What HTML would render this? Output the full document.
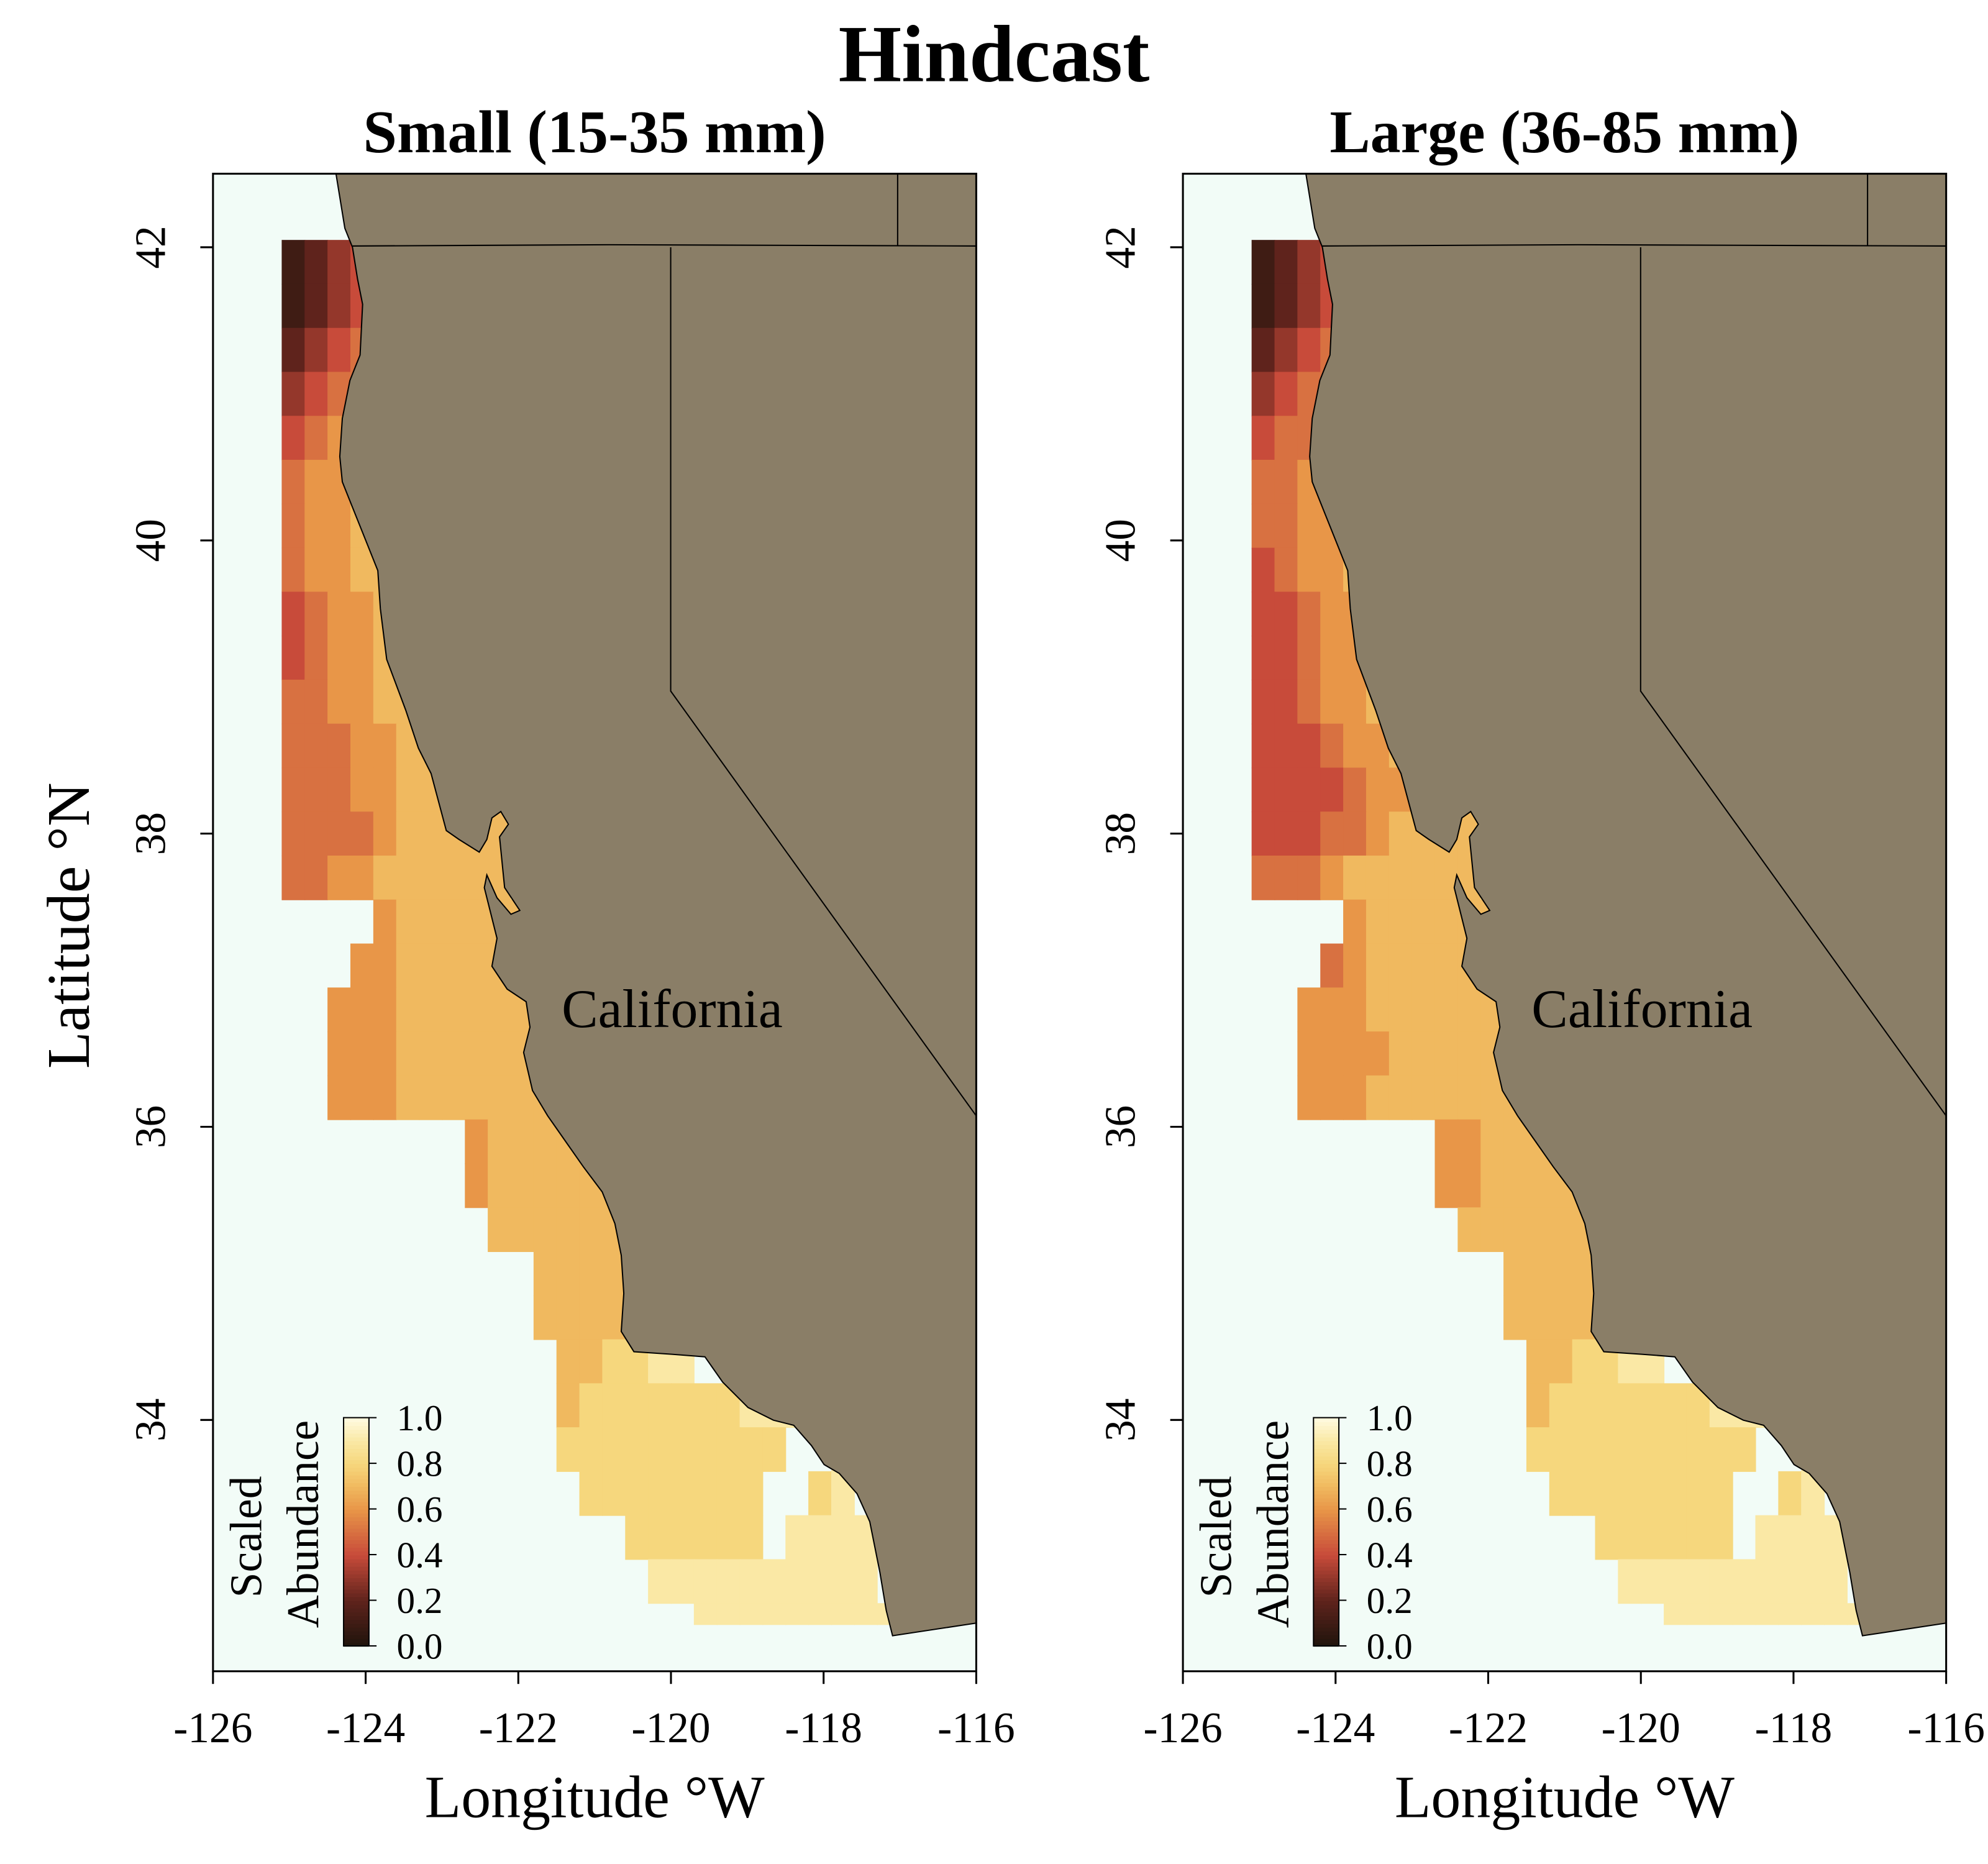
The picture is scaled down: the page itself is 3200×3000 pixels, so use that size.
<!DOCTYPE html>
<html><head><meta charset="utf-8">
<style>
html,body{margin:0;padding:0;background:#fff;}
svg{display:block;font-family:"Liberation Serif",serif;}
</style></head>
<body>
<svg id="fig" width="3200" height="3000" viewBox="0 0 1568 1470" preserveAspectRatio="none" xmlns="http://www.w3.org/2000/svg">
<text x="784" y="64" font-size="64" font-weight="bold" text-anchor="middle">Hindcast</text>
</svg>
<script>
// ---- chart data ----
const lonTicks = [-126, -124, -122, -120, -118, -116];
const latTicks = [42, 40, 38, 36, 34];
const cbTicks = ["0.0", "0.2", "0.4", "0.6", "0.8", "1.0"];
const panelTitles = ["Small (15-35 mm)", "Large (36-85 mm)"];
// gridded scaled abundance: each string is one 0.3° lat row (north to south),
// each char is one 0.3° lon column starting at -125.1; digit = value*10, space = no data
const smallGrid = [
"1234999999","12344999","2345999","3455999","45666999","5666999","56677999",
"566777999","4566777999","4566777999","5566777999","55566777999","555667777999",
"5555677777999","5566777777999","    6777777999","   66777777999","  6667777777999",
"  66677777777999","  6667777777999","        677777799","        67777779",
"         7777779","           7777799","           77779","            778899",
"            78888888999","            8888888888  99","             88888888  89",
"               888888 999999","                9999999999","                  999999999"
];
const largeGrid = [
"1234999999","12344999","2345999","3455999","45566999","5566999","55667999",
"456677999","4456677999","4456677999","4456677999","44456677999","444456677999",
"4445567777999","5556777777999","    6777777999","   56777777999","  6667777777999",
"  66667777777999","  6667777777999","        667777799","        66777779",
"         7777779","           7777799","           77779","            778899",
"            78888888999","            8888888888  99","             88888888  89",
"               888888 999999","                9999999999","                  999999999"
];
const grids = [smallGrid, largeGrid];
const gridLon0 = -125.1, gridLat0 = 42.05, cellDeg = 0.3;

// ---- scales (panel-local) ----
const X0 = 168, PW = 602, Y0 = 137, PH = 1181;
function xs(lon){ return 168 + (lon + 126) * 60.2; }
function ys(lat){ return 195 + (42 - lat) * 115.6; }
const stops = [[0,[30,20,12]],[0.2,[95,35,28]],[0.4,[200,75,58]],[0.6,[232,150,72]],[0.7,[240,185,95]],[0.8,[246,215,125]],[0.9,[250,232,165]],[1,[255,251,225]]];
function cmap(v){
  for(let i=1;i<stops.length;i++){
    if(v<=stops[i][0]){const a=stops[i-1],b=stops[i],t=(v-a[0])/(b[0]-a[0]);
      return 'rgb('+a[1].map((c,k)=>Math.round(c+(b[1][k]-c)*t)).join(',')+')';}
  }
  return 'rgb(255,251,225)';
}
const NS='http://www.w3.org/2000/svg';
const svg=document.getElementById('fig');
function mk(tag,attrs,parent){const e=document.createElementNS(NS,tag);for(const k in attrs)e.setAttribute(k,attrs[k]);(parent||svg).appendChild(e);return e;}

const coast="265,137 272,180 278,195 282,220 286,240 284,280 276,300 270,330 268,360 270,380 278,400 290,430 298,450 300,480 305,520 320,560 330,590 340,610 348,640 352,655 362,662 378,672 384,662 388,645 395,640 401,650 394,660 398,700 410,718 403,721 392,708 384,690 382,700 392,740 388,762 400,780 415,790 418,810 413,830 420,860 432,880 446,900 460,920 475,940 485,965 490,990 492,1020 490,1050 500,1066 530,1068 556,1070 570,1090 590,1110 610,1120 626,1124 640,1140 650,1155 662,1162 676,1178 686,1200 694,1240 699,1270 704,1290 770,1280 770,137";

for(let p=0;p<2;p++){
  const dx = p*765;
  const g = mk('g',{transform:'translate('+dx+',0)'});
  
  
  const t = mk('text',{x:469,y:120,'font-size':48,'font-weight':'bold','text-anchor':'middle'},g);
  t.textContent = panelTitles[p];
  
  
  const bg = mk('rect',{x:X0,y:Y0,width:PW,height:PH,fill:'#f2fcf7'},g);
  
  
  const hm = mk('g',{},g);
  
  
  grids[p].forEach((row,j)=>{
    const la1 = gridLat0 - j*cellDeg, la2 = la1 - cellDeg;
    for(let i=0;i<row.length;i++){
      const ch=row[i]; if(ch===' ') continue;
      const lo1 = gridLon0 + i*cellDeg;
      const x1=xs(lo1), x2=xs(lo1+cellDeg), y1=ys(la1), y2=Math.min(ys(la2),1281);
      const c = mk('rect',{x:x1,y:y1,width:x2-x1+0.5,height:y2-y1+0.5,fill:cmap(+ch/10)},hm);
      
      
    }
  });
  const land = mk('polygon',{points:coast,fill:'#8a7e67',stroke:'#000','stroke-width':1},g);
  
  
  const b1 = mk('polyline',{points:'278,194 480,193 770,194',fill:'none',stroke:'#000','stroke-width':1},g);
  
  
  const b2 = mk('polyline',{points:'708,137 708,194',fill:'none',stroke:'#000','stroke-width':1},g);
  
  
  const b3 = mk('polyline',{points:'529,195 529,545 770,880',fill:'none',stroke:'#000','stroke-width':1},g);
  
  
  const cal = mk('text',{x:443,y:810,'font-size':43},g);
  cal.textContent='California';
  
  
  const fr = mk('rect',{x:X0,y:Y0,width:PW,height:PH,fill:'none',stroke:'#000','stroke-width':1.5},g);
  
  
  lonTicks.forEach(v=>{
    const x=xs(v);
    const tk=mk('line',{x1:x,x2:x,y1:1318,y2:1328,stroke:'#000','stroke-width':1.5},g);
    
    
    const tl=mk('text',{x:x,y:1374,'font-size':34,'text-anchor':'middle'},g);
    tl.textContent=String(v);
    
    
  });
  latTicks.forEach(v=>{
    const y=ys(v);
    const tk=mk('line',{x1:158,x2:168,y1:y,y2:y,stroke:'#000','stroke-width':1.5},g);
    
    
    const tl=mk('text',{x:0,y:0,'font-size':34,'text-anchor':'middle',transform:'translate(130,'+y+') rotate(-90)'},g);
    tl.textContent=String(v);
    
    
  });
  const xl=mk('text',{x:469,y:1433,'font-size':47,'text-anchor':'middle'},g);
  xl.textContent='Longitude °W';
  
  
  // colorbar
  const cb = mk('g',{},g);
  
  
  const n=60, cy0=1118, cy1=1298;
  for(let k=0;k<n;k++){
    const v=k/n, y=cy1-(k+1)*(cy1-cy0)/n;
    mk('rect',{x:271,y:y,width:20,height:(cy1-cy0)/n+0.6,fill:cmap(v+0.5/n)},cb);
  }
  mk('rect',{x:271,y:cy0,width:20,height:cy1-cy0,fill:'none',stroke:'#000','stroke-width':1},cb);
  cbTicks.forEach((s,k)=>{
    const y=cy1-k*(cy1-cy0)/5;
    mk('line',{x1:291,x2:297,y1:y,y2:y,stroke:'#000','stroke-width':1},cb);
    const tl=mk('text',{x:331,y:y+10,'font-size':29,'text-anchor':'middle'},cb);
    tl.textContent=s;
    
    
  });
  const s1=mk('text',{x:0,y:0,'font-size':36,'text-anchor':'middle',transform:'translate(206,1212) rotate(-90)'},g);
  s1.textContent='Scaled';
  
  
  const s2=mk('text',{x:0,y:0,'font-size':36,'text-anchor':'middle',transform:'translate(251,1202) rotate(-90)'},g);
  s2.textContent='Abundance';
  
  
}
const yl=mk('text',{x:0,y:0,'font-size':48,'text-anchor':'middle',transform:'translate(70,730) rotate(-90)'});
yl.textContent='Latitude °N';


</script>
</body></html>
